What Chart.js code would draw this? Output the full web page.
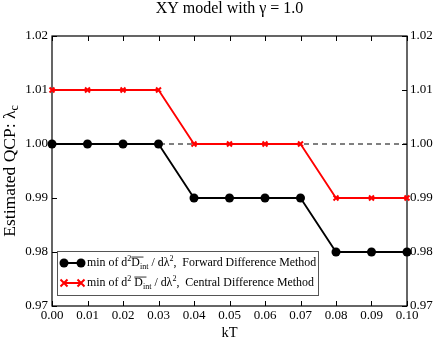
<!DOCTYPE html>
<html>
<head>
<meta charset="utf-8">
<script src="https://cdn.jsdelivr.net/npm/chart.js@4.4.0/dist/chart.umd.min.js"></script>
<style>
  html, body { margin: 0; padding: 0; background: #fff; }
  #wrap { width: 436px; height: 340px; }
</style>
</head>
<body>
<div id="wrap"><canvas id="myChart"></canvas></div>
<script>
// data
const kT = [0.00, 0.01, 0.02, 0.03, 0.04, 0.05, 0.06, 0.07, 0.08, 0.09, 0.10];
const forwardQCP = [1.00, 1.00, 1.00, 1.00, 0.99, 0.99, 0.99, 0.99, 0.98, 0.98, 0.98];
const centralQCP = [1.01, 1.01, 1.01, 1.01, 1.00, 1.00, 1.00, 1.00, 0.99, 0.99, 0.99];
const refX = [0.00, 0.10];
const refY = [1.00, 1.00];
const xTicks = [0.00, 0.01, 0.02, 0.03, 0.04, 0.05, 0.06, 0.07, 0.08, 0.09, 0.10];
const yTicks = [0.97, 0.98, 0.99, 1.00, 1.01, 1.02];

const SERIF = '"Liberation Serif", "Times New Roman", serif';

function pts(xs, ys) {
  return xs.map((x, i) => ({ x: x, y: ys[i] }));
}

// draws a row of text pieces with super/subscripts and overline
function drawRich(ctx, x, y, parts, size) {
  ctx.save();
  ctx.textBaseline = 'middle';
  ctx.textAlign = 'left';
  ctx.fillStyle = '#000';
  let cx = x;
  parts.forEach(p => {
    const s = p.sup || p.sub ? size * 0.68 : size;
    const dy = p.sup ? -size * 0.38 : (p.sub ? size * 0.3 : 0);
    ctx.font = s + 'px ' + SERIF;
    ctx.fillText(p.t, cx, y + dy);
    const w = ctx.measureText(p.t).width;
    if (p.over) {
      ctx.strokeStyle = '#000';
      ctx.lineWidth = 0.8;
      ctx.beginPath();
      ctx.moveTo(cx, y - size * 0.5);
      ctx.lineTo(cx + w + size * 0.3, y - size * 0.5);
      ctx.stroke();
    }
    cx += w;
  });
  ctx.restore();
  return cx;
}

const legendRows = [
  [{t: 'min of d'}, {t: '2', sup: true}, {t: 'D', over: true}, {t: 'int', sub: true},
   {t: ' / d\u03bb'}, {t: '2', sup: true}, {t: ',  Forward Difference Method'}],
  [{t: 'min of d'}, {t: '2', sup: true}, {t: ' '}, {t: 'D', over: true}, {t: 'int', sub: true},
   {t: ' / d\u03bb'}, {t: '2', sup: true}, {t: ',  Central Difference Method'}]
];

// frame, inward ticks, y title and legend box
const framePlugin = {
  id: 'framePlugin',
  beforeDatasetsDraw(chart) {
    const {ctx, chartArea: a} = chart;
    const xs = chart.scales.x, ys = chart.scales.y;
    ctx.save();
    ctx.strokeStyle = '#000';
    ctx.lineWidth = 1.2;
    ctx.strokeRect(a.left, a.top, a.right - a.left, a.bottom - a.top);
    ctx.lineWidth = 1;
    ctx.beginPath();
    xTicks.forEach(v => {
      const px = Math.round(xs.getPixelForValue(v)) + 0.5;
      ctx.moveTo(px, a.bottom); ctx.lineTo(px, a.bottom - 5);
      ctx.moveTo(px, a.top); ctx.lineTo(px, a.top + 5);
    });
    yTicks.forEach(v => {
      const py = Math.round(ys.getPixelForValue(v)) + 0.5;
      ctx.moveTo(a.left, py); ctx.lineTo(a.left + 5, py);
      ctx.moveTo(a.right, py); ctx.lineTo(a.right - 5, py);
    });
    ctx.stroke();

    // y axis title with subscript
    const fs = 17.5;
    ctx.translate(10, (a.top + a.bottom) / 2);
    ctx.rotate(-Math.PI / 2);
    const main = 'Estimated QCP: \u03bb';
    ctx.font = fs + 'px ' + SERIF;
    const w1 = ctx.measureText(main).width;
    ctx.font = (fs * 0.68) + 'px ' + SERIF;
    const w2 = ctx.measureText('c').width;
    drawRich(ctx, -(w1 + w2) / 2, 0, [{t: main}, {t: 'c', sub: true}], fs);
    ctx.restore();
  },
  afterDraw(chart) {
    const {ctx} = chart;
    ctx.save();
    const bx = 57, by = 251, bw = 261, bh = 44;
    ctx.fillStyle = '#fff';
    ctx.fillRect(bx, by, bw, bh);
    ctx.strokeStyle = '#555';
    ctx.lineWidth = 1;
    ctx.strokeRect(bx + 0.5, by + 0.5, bw, bh);
    const rowY = [263, 283];
    chart.data.datasets.slice(0, 2).forEach((ds, i) => {
      const y = rowY[i];
      ctx.strokeStyle = ds.borderColor;
      ctx.lineWidth = 2;
      ctx.beginPath();
      ctx.moveTo(64, y); ctx.lineTo(81, y);
      ctx.stroke();
      [64, 81].forEach(mx => {
        if (ds.pointStyle === 'circle') {
          ctx.fillStyle = ds.borderColor;
          ctx.beginPath();
          ctx.arc(mx, y, ds.pointRadius, 0, Math.PI * 2);
          ctx.fill();
        } else {
          const r = ds.pointRadius;
          ctx.beginPath();
          ctx.moveTo(mx - r, y - r); ctx.lineTo(mx + r, y + r);
          ctx.moveTo(mx - r, y + r); ctx.lineTo(mx + r, y - r);
          ctx.stroke();
        }
      });
      drawRich(ctx, 87, y, legendRows[i], 11.9);
    });
    ctx.restore();
  }
};

const tickFont = { family: SERIF, size: 13 };

const config = {
  type: 'line',
  data: {
    datasets: [{
      label: 'min of d2Dint / dλ2, Forward Difference Method',
      data: pts(kT, forwardQCP),
      borderColor: '#000',
      backgroundColor: '#000',
      borderWidth: 1.8,
      pointStyle: 'circle',
      pointRadius: 4.5,
      pointBorderWidth: 0,
      clip: false,
      order: 1
    }, {
      label: 'min of d2 Dint / dλ2, Central Difference Method',
      data: pts(kT, centralQCP),
      borderColor: '#ff0000',
      backgroundColor: '#ff0000',
      borderWidth: 1.8,
      pointStyle: 'crossRot',
      pointRadius: 3.5,
      pointBorderWidth: 2,
      clip: false,
      order: 2
    }, {
      label: 'reference',
      data: pts(refX, refY),
      borderColor: '#000',
      borderWidth: 1,
      borderDash: [5, 4],
      pointRadius: 0,
      order: 3
    }]
  },
  options: {
    responsive: true,
    maintainAspectRatio: false,
    animation: false,
    layout: { padding: 0 },
    plugins: {
      legend: { display: false },
      tooltip: { enabled: false },
      title: {
        display: true,
        text: 'XY model with \u03b3 = 1.0',
        fullSize: false,
        color: '#000',
        font: { family: SERIF, size: 16, weight: 'normal', lineHeight: 1 },
        padding: { top: 1, bottom: 19 }
      }
    },
    scales: {
      x: {
        type: 'linear',
        min: 0, max: 0.1,
        grid: { display: false, drawTicks: false },
        border: { display: false },
        afterBuildTicks(s) { s.ticks = xTicks.map(v => ({ value: v })); },
        afterFit(s) { s.height = 34; },
        ticks: {
          color: '#000', font: tickFont, padding: 2, maxRotation: 0, autoSkip: false,
          callback: v => v.toFixed(2)
        },
        title: {
          display: true, text: 'kT', color: '#000',
          font: { family: SERIF, size: 14.5, lineHeight: 1 }, padding: 0
        }
      },
      y: {
        type: 'linear',
        position: 'left',
        min: 0.97, max: 1.02,
        grid: { display: false, drawTicks: false },
        border: { display: false },
        afterBuildTicks(s) { s.ticks = yTicks.map(v => ({ value: v })); },
        afterFit(s) { s.width = 52; },
        ticks: { color: '#000', font: tickFont, padding: 4, callback: v => v.toFixed(2) }
      },
      y2: {
        type: 'linear',
        position: 'right',
        min: 0.97, max: 1.02,
        grid: { display: false, drawTicks: false },
        border: { display: false },
        afterBuildTicks(s) { s.ticks = yTicks.map(v => ({ value: v })); },
        afterFit(s) { s.width = 29; },
        ticks: { color: '#000', font: tickFont, padding: 3, callback: v => v.toFixed(2) }
      }
    }
  },
  plugins: [framePlugin]
};

const myChart = new Chart(document.getElementById('myChart'), config);
</script>
</body>
</html>
